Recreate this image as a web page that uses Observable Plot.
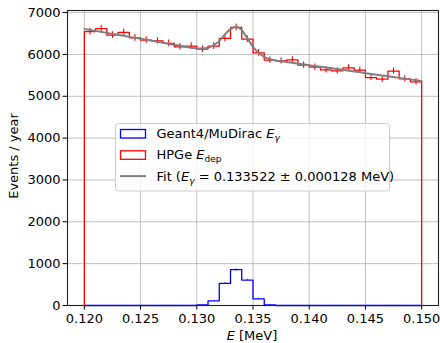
<!DOCTYPE html>
<html><head><meta charset="utf-8">
<script src="https://cdn.jsdelivr.net/npm/d3@7"></script>
<script src="https://cdn.jsdelivr.net/npm/@observablehq/plot@0.6"></script>
<style>
body{margin:0;background:#fff;}
#chart{position:relative;width:440px;height:343px;}
svg{font-family:"DejaVu Sans",sans-serif;}
</style>
</head><body><div id="chart"></div>
<script>
// ---- data ----
const binStart = 0.120, binWidth = 0.001, nBins = 30;
// HPGe deposited energy histogram (red), one value per 0.001 MeV bin from 0.120 to 0.150
const hpgeCounts = [6545, 6615, 6462, 6527, 6398, 6342, 6326, 6263, 6182, 6199,
                    6127, 6199, 6383, 6646, 6366, 6038, 5863, 5847, 5871, 5744,
                    5696, 5631, 5607, 5679, 5624, 5448, 5409, 5600, 5415, 5344];
// Geant4/MuDirac photon energy histogram (blue)
const geantCounts = [0, 0, 0, 0, 0, 0, 0, 0, 0, 0,
                     16, 112, 527, 856, 607, 160, 16, 0, 0, 0,
                     0, 0, 0, 0, 0, 0, 0, 0, 0, 0];
// Fit curve (gray)
const fitE = [0.120, 0.121, 0.122, 0.123, 0.124, 0.125, 0.126, 0.127, 0.128, 0.129,
              0.1295, 0.130, 0.1305, 0.131, 0.1315, 0.132, 0.1325, 0.133, 0.1335, 0.134,
              0.1345, 0.135, 0.1355, 0.136, 0.1365, 0.137, 0.138, 0.139, 0.140, 0.141,
              0.142, 0.143, 0.144, 0.145, 0.146, 0.147, 0.148, 0.149, 0.150];
const fitCounts = [6610, 6563, 6515, 6468, 6420, 6373, 6325, 6278, 6230, 6185,
                   6163, 6144, 6142, 6158, 6223, 6318, 6479, 6606, 6654, 6582,
                   6383, 6182, 6038, 5943, 5887, 5856, 5818, 5780, 5742, 5705,
                   5668, 5632, 5594, 5552, 5513, 5476, 5440, 5404, 5368];
const xTicks = [0.120, 0.125, 0.130, 0.135, 0.140, 0.145, 0.150];
const yTicks = [0, 1000, 2000, 3000, 4000, 5000, 6000, 7000];
const xDomain = [0.1185, 0.1515];
const yDomain = [0, 7050];

// ---- derived tables ----
const edges = d3.range(nBins + 1).map(i => +(binStart + i * binWidth).toFixed(4));
function stepPoints(counts) {
  const pts = [{x: edges[0], y: 0}];
  counts.forEach((c, i) => { pts.push({x: edges[i], y: c}); pts.push({x: edges[i + 1], y: c}); });
  pts.push({x: edges[nBins], y: 0});
  return pts;
}
function binTable(counts) {
  return counts.map((v, i) => ({c: (edges[i] + edges[i + 1]) / 2, v}));
}
const fitData = fitE.map((e, i) => ({x: e, y: fitCounts[i]}));

const W = 440, H = 343;
const plot = Plot.plot({
  width: W, height: H,
  marginLeft: 67, marginRight: 2, marginTop: 10, marginBottom: 38,
  style: {fontFamily: "DejaVu Sans, sans-serif", fontSize: "13px", color: "#000", background: "#fff"},
  x: {domain: xDomain},
  y: {domain: yDomain},
  marks: [
    Plot.gridX(xTicks, {stroke: "#b0b0b0", strokeOpacity: 1, strokeWidth: 0.8}),
    Plot.gridY(yTicks, {stroke: "#b0b0b0", strokeOpacity: 1, strokeWidth: 0.8}),
    Plot.line(stepPoints(geantCounts), {x: "x", y: "y", stroke: "#0000ff", strokeWidth: 1.3}),
    Plot.ruleX(binTable(geantCounts).filter(d => d.v > 0), {x: "c", y1: d => d.v - Math.sqrt(d.v), y2: d => d.v + Math.sqrt(d.v), stroke: "#0000ff", strokeWidth: 1, strokeOpacity: 0.6}),
    Plot.line(stepPoints(hpgeCounts), {x: "x", y: "y", stroke: "#ff0000", strokeWidth: 1.3}),
    Plot.ruleX(binTable(hpgeCounts), {x: "c", y1: d => d.v - Math.sqrt(d.v), y2: d => d.v + Math.sqrt(d.v), stroke: "#ff0000", strokeWidth: 1.1}),
    Plot.line(fitData, {x: "x", y: "y", stroke: "#808080", strokeWidth: 2, curve: "monotone-x"}),
    Plot.axisX({ticks: xTicks, tickFormat: d3.format(".3f"), tickSize: 4.5, tickPadding: 4, fontSize: 13, label: null}),
    Plot.axisY({ticks: yTicks, tickFormat: d3.format("d"), tickSize: 4.5, tickPadding: 2.5, fontSize: 13, label: null}),
    Plot.frame({stroke: "#222", strokeWidth: 1.1})
  ]
});
document.getElementById("chart").appendChild(plot);

// ---- axis labels and legend ----
const svg = d3.select(plot);
const fs = 13;
const xl = svg.append("text").attr("x", 252).attr("y", 340).attr("text-anchor", "middle")
  .attr("font-size", fs).attr("fill", "#000");
xl.append("tspan").attr("font-style", "italic").text("E");
xl.append("tspan").text(" [MeV]");
svg.append("text").attr("transform", "translate(18,156) rotate(-90)").attr("text-anchor", "middle")
  .attr("font-size", fs).attr("fill", "#000").text("Events / year");

const lg = svg.append("g").attr("text-anchor", "start");
lg.append("rect").attr("x", 115.5).attr("y", 123.5).attr("width", 274).attr("height", 67.5)
  .attr("rx", 3).attr("fill", "#fff").attr("fill-opacity", 0.8).attr("stroke", "#cccccc").attr("stroke-width", 1);
const rows = [
  {kind: "rect", color: "#0000ff", pre: "Geant4/MuDirac ", sub: "γ", subItalic: true, post: ""},
  {kind: "rect", color: "#ff0000", pre: "HPGe ", sub: "dep", subItalic: false, post: ""},
  {kind: "line", color: "#808080", pre: "Fit (", sub: "γ", subItalic: true, post: " = 0.133522 ± 0.000128 MeV)"}
];
rows.forEach((r, i) => {
  const base = 138 + i * 21.3;
  if (r.kind === "rect") {
    lg.append("rect").attr("x", 120.5).attr("y", base - 8.5).attr("width", 25).attr("height", 8.5)
      .attr("fill", "none").attr("stroke", r.color).attr("stroke-width", 1.3);
  } else {
    lg.append("line").attr("x1", 120).attr("x2", 146).attr("y1", base - 4.5).attr("y2", base - 4.5)
      .attr("stroke", r.color).attr("stroke-width", 2);
  }
  const t = lg.append("text").attr("x", 156.5).attr("y", base).attr("font-size", fs)
    .attr("fill", "#000").attr("text-anchor", "start");
  t.append("tspan").text(r.pre);
  t.append("tspan").attr("font-style", "italic").text("E");
  t.append("tspan").attr("font-size", 9).attr("dy", 3).attr("font-style", r.subItalic ? "italic" : "normal").text(r.sub);
  if (r.post) t.append("tspan").attr("dy", -3).text(r.post);
});
</script>
</body></html>
